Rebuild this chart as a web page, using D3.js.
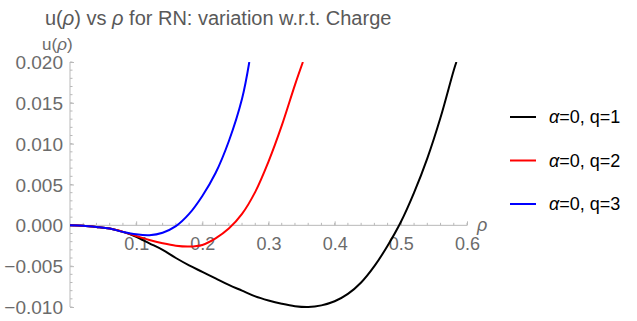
<!DOCTYPE html>
<html>
<head>
<meta charset="utf-8">
<script src="https://cdn.jsdelivr.net/npm/d3@7"></script>
<style>
  body { margin: 0; background: #fff; }
  svg { display: block; font-family: "Liberation Sans", Arial, sans-serif; }
</style>
</head>
<body>
<svg></svg>
<script>
const rhoQ1 = [0, 0.02, 0.04, 0.06, 0.08, 0.10, 0.12, 0.14, 0.16, 0.18, 0.20, 0.22, 0.24, 0.26, 0.28, 0.30, 0.32, 0.34, 0.36, 0.38, 0.40, 0.42, 0.44, 0.46, 0.48, 0.50, 0.52, 0.54, 0.56, 0.58, 0.584];
const uQ1 = [0, -0.00005, -0.0002, -0.0004, -0.0008, -0.0014, -0.0022, -0.0030, -0.0040, -0.0049, -0.0057, -0.0065, -0.0073, -0.0080, -0.0087, -0.0092, -0.0096, -0.0099, -0.0100, -0.0098, -0.0093, -0.0084, -0.0070, -0.0050, -0.0025, 0.0004, 0.0040, 0.0082, 0.0132, 0.0190, 0.0200];

const rhoQ2 = [0, 0.02, 0.04, 0.06, 0.08, 0.10, 0.12, 0.14, 0.16, 0.18, 0.20, 0.22, 0.24, 0.26, 0.28, 0.30, 0.32, 0.34, 0.352];
const uQ2 = [0, -0.00005, -0.0002, -0.0004, -0.0008, -0.0013, -0.0018, -0.0022, -0.0025, -0.0026, -0.0024, -0.0016, -0.0004, 0.0014, 0.0041, 0.0078, 0.0122, 0.0172, 0.0200];

const rhoQ3 = [0, 0.02, 0.04, 0.06, 0.08, 0.10, 0.12, 0.14, 0.16, 0.18, 0.20, 0.22, 0.24, 0.26, 0.271];
const uQ3 = [0, -0.00005, -0.0002, -0.0004, -0.0008, -0.0011, -0.0012, -0.0009, -0.0001, 0.0014, 0.0036, 0.0064, 0.0103, 0.0155, 0.0200];

const seriesNames = ['α=0, q=1', 'α=0, q=2', 'α=0, q=3'];
const seriesColors = ['#000000', '#ff0000', '#0000ff'];

const xTicks = [0.1, 0.2, 0.3, 0.4, 0.5, 0.6];
const yTicks = [-0.010, -0.005, 0.000, 0.005, 0.010, 0.015, 0.020];

const width = 637;
const height = 321;

const svg = d3.select('svg')
    .attr('width', width)
    .attr('height', height);

const xScale = d3.scaleLinear().domain([0, 0.6]).range([70, 467]);
const yScale = d3.scaleLinear().domain([-0.01, 0.02]).range([307, 62]);

const axisColor = '#b9b9b9';
const labelColor = '#6b6b6b';

// title
const title = svg.append('text')
    .attr('x', 45)
    .attr('y', 25)
    .attr('font-size', 20)
    .attr('fill', '#595959');
title.append('tspan').text('u(');
title.append('tspan').attr('font-style', 'italic').text('ρ');
title.append('tspan').text(') vs ');
title.append('tspan').attr('font-style', 'italic').text('ρ');
title.append('tspan').text(' for RN: variation w.r.t. Charge');

// minor ticks
const xMinor = d3.range(1, 31).map(i => i * 0.02);
const yMinor = d3.range(-10, 21).map(i => i * 0.001);

svg.append('g')
    .selectAll('line')
    .data(xMinor)
    .enter()
    .append('line')
    .attr('x1', d => xScale(d))
    .attr('x2', d => xScale(d))
    .attr('y1', yScale(0))
    .attr('y2', yScale(0) - 2.5)
    .attr('stroke', axisColor);

svg.append('g')
    .selectAll('line')
    .data(yMinor)
    .enter()
    .append('line')
    .attr('x1', xScale(0))
    .attr('x2', xScale(0) + 2.5)
    .attr('y1', d => yScale(d))
    .attr('y2', d => yScale(d))
    .attr('stroke', axisColor);

// axes
const xAxis = d3.axisTop(xScale)
    .tickValues(xTicks)
    .tickSize(4)
    .tickFormat(d3.format('.1f'));
const yAxis = d3.axisRight(yScale)
    .tickValues(yTicks)
    .tickSize(4)
    .tickFormat(d3.format('.3f'));

const gx = svg.append('g')
    .attr('transform', 'translate(0,' + yScale(0) + ')')
    .call(xAxis);
gx.select('.domain').attr('stroke', axisColor).attr('d', 'M' + xScale(0) + ',0H' + xScale(0.6));
gx.selectAll('.tick line').attr('stroke', axisColor);
gx.selectAll('.tick text')
    .attr('y', 25)
    .attr('font-size', 18)
    .attr('font-family', '"Liberation Sans", Arial, sans-serif')
    .attr('fill', labelColor);

const gy = svg.append('g')
    .attr('transform', 'translate(' + xScale(0) + ',0)')
    .call(yAxis);
gy.select('.domain').attr('stroke', axisColor).attr('d', 'M0,' + yScale(0.02) + 'V' + yScale(-0.01));
gy.selectAll('.tick line').attr('stroke', axisColor);
gy.selectAll('.tick text')
    .attr('x', -7)
    .attr('dy', '0.35em')
    .attr('text-anchor', 'end')
    .attr('font-size', 19)
    .attr('font-family', '"Liberation Sans", Arial, sans-serif')
    .attr('fill', labelColor);

// axis labels
const yLabel = svg.append('text')
    .attr('x', 42)
    .attr('y', 50)
    .attr('font-size', 17)
    .attr('fill', labelColor);
yLabel.append('tspan').text('u(');
yLabel.append('tspan').attr('font-style', 'italic').text('ρ');
yLabel.append('tspan').text(')');

svg.append('text')
    .attr('x', xScale(0.6) + 10)
    .attr('y', yScale(0) + 6)
    .attr('font-size', 18)
    .attr('font-style', 'italic')
    .attr('fill', labelColor)
    .text('ρ');

// curves
svg.append('clipPath')
    .attr('id', 'plot-clip')
    .append('rect')
    .attr('x', xScale(0) - 2)
    .attr('y', yScale(0.02))
    .attr('width', xScale(0.6) - xScale(0) + 4)
    .attr('height', yScale(-0.01) - yScale(0.02) + 4);

const series = [
    rhoQ1.map((r, i) => [r, uQ1[i]]),
    rhoQ2.map((r, i) => [r, uQ2[i]]),
    rhoQ3.map((r, i) => [r, uQ3[i]])
];

const line = d3.line()
    .x(d => xScale(d[0]))
    .y(d => yScale(d[1]))
    .curve(d3.curveCatmullRom.alpha(0.5));

svg.append('g')
    .attr('clip-path', 'url(#plot-clip)')
    .selectAll('path')
    .data(series)
    .enter()
    .append('path')
    .attr('d', line)
    .attr('fill', 'none')
    .attr('stroke', (d, i) => seriesColors[i])
    .attr('stroke-width', 2);

// legend
const legend = svg.append('g')
    .selectAll('g')
    .data(seriesNames)
    .enter()
    .append('g')
    .attr('transform', (d, i) => 'translate(510,' + (117 + i * 43.5) + ')');

legend.append('line')
    .attr('x1', 0)
    .attr('x2', 26)
    .attr('stroke', (d, i) => seriesColors[i])
    .attr('stroke-width', 2);

legend.append('text')
    .attr('x', 39)
    .attr('dy', '0.35em')
    .attr('font-size', 18)
    .attr('fill', '#000')
    .each(function (d) {
        const t = d3.select(this);
        t.append('tspan').attr('font-style', 'italic').text(d.slice(0, 1));
        t.append('tspan').text(d.slice(1));
    });
</script>
</body>
</html>
